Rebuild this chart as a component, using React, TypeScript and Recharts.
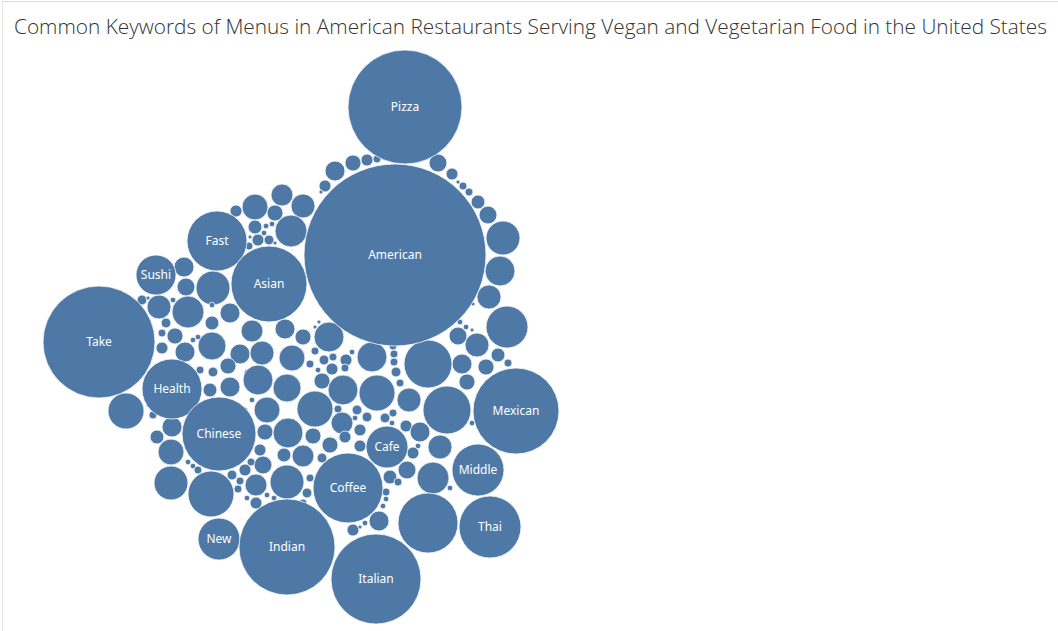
import { ScatterChart, Scatter, XAxis, YAxis, ZAxis, LabelList } from 'recharts';

// Keywords that carry a label in the packed bubble view
const labeledNames = [
  'Pizza', 'American', 'Take', 'Fast', 'Sushi', 'Asian', 'Health', 'Chinese',
  'Mexican', 'Cafe', 'Middle', 'Coffee', 'Thai', 'New', 'Indian', 'Italian',
];
const labeledCounts = [812, 2070, 784, 225, 100, 361, 225, 342, 462, 110, 169, 306, 240, 110, 576, 506];
// pack layout position of each bubble (layout units)
const labeledPackX = [405, 395, 99, 217, 156, 269, 172, 219, 516, 387, 478, 348, 490, 219, 287, 376];
const labeledPackY = [107, 255, 342, 241, 275, 284, 389, 434, 411, 447, 470, 488, 527, 539, 547, 579];

// Remaining (unlabeled) keywords: counts and pack layout positions
const otherCounts = [
  // top right, around Pizza
  20, 9, 1, 4, 4, 12, 20, 72, 56, 36, 110, 1, 2, 2, 1, 20, 36, 12, 4, 16, 25, 16, 2,
  // top left, around American
  25, 16, 9, 4, 9, 1, 36, 64, 30, 16, 42, 9, 12, 9, 6, 2, 2, 2, 1, 4, 1,
  // left side
  25, 20, 72, 36, 64, 6, 2, 1, 6, 4, 16, 9, 25, 2, 2, 81, 4, 1, 12, 25, 42, 72, 2, 2, 4, 132,
  // middle left
  2, 25, 12, 30, 25, 16, 49, 25, 36, 42, 16, 6, 4, 4, 56, 25, 12, 49, 42, 2, 2,
  // center
  56, 1, 1, 4, 4, 6, 4, 9, 2, 2, 9, 4, 16, 56, 4, 4, 4, 6, 4, 56, 81, 36, 81, 6, 4, 2, 6,
  30, 6, 4, 2, 9, 9, 16, 16, 9, 9, 30, 6, 4, 6, 4, 144, 144,
  // lower left center
  16, 9, 56, 12, 20, 4, 9, 6, 4, 4, 30, 2, 9, 72, 2, 2,
  // lower right
  25, 2, 36, 9, 20, 64, 2, 225, 12, 4, 4, 2, 2, 25, 2, 9, 1,
];
const otherPackX = [
  438, 452, 458, 463, 469, 478, 488, 503, 500, 489, 507, 473, 460, 466, 472, 458, 477, 498, 508, 486, 462, 467, 472,
  335, 353, 367, 377, 325, 321, 303, 291, 282, 275, 255, 236, 255, 258, 269, 266, 272, 264, 250, 249, 275,
  184, 186, 213, 159, 188, 142, 173, 148, 166, 162, 175, 162, 185, 193, 198, 126, 153, 148, 157, 172, 171, 171, 188, 193, 198, 211,
  212, 230, 212, 252, 285, 303, 212, 240, 262, 292, 228, 213, 200, 248, 258, 230, 210, 287, 267, 252, 245,
  329, 315, 319, 315, 310, 324, 333, 346, 352, 318, 332, 345, 322, 372, 393, 394, 394, 396, 400, 343, 377, 409, 315, 357, 338, 355, 367,
  342, 385, 393, 392, 406, 360, 313, 330, 345, 360, 303, 322, 310, 307, 303, 428, 447,
  265, 260, 288, 284, 263, 251, 245, 232, 240, 238, 256, 247, 256, 287, 267, 274,
  420, 418, 440, 413, 407, 433, 450, 428, 390, 398, 386, 386, 383, 379, 365, 353, 360,
];
const otherPackY = [
  163, 174, 182, 186, 192, 202, 215, 238, 271, 297, 327, 304, 322, 327, 330, 336, 345, 355, 363, 367, 364, 382, 423,
  171, 163, 160, 159, 186, 192, 206, 231, 195, 213, 207, 211, 227, 240, 240, 226, 224, 233, 237, 246, 243,
  267, 287, 288, 307, 312, 300, 300, 298, 323, 333, 336, 348, 352, 340, 337, 411, 415, 405, 437, 427, 452, 483, 462, 466, 470, 494,
  305, 313, 323, 331, 329, 337, 346, 354, 353, 358, 366, 372, 370, 373, 380, 387, 390, 388, 410, 400, 410,
  337, 327, 322, 351, 364, 360, 357, 360, 352, 370, 369, 368, 381, 357, 346, 354, 362, 372, 383, 390, 393, 400, 409, 410, 409, 418, 417,
  423, 418, 413, 423, 426, 430, 436, 445, 437, 446, 456, 458, 478, 493, 503, 364, 410,
  432, 450, 433, 455, 465, 462, 470, 475, 481, 489, 485, 498, 503, 482, 495, 498,
  432, 446, 447, 453, 470, 478, 488, 523, 477, 482, 492, 499, 506, 521, 523, 530, 527,
];

const MAX_COUNT = 2070;
const BUBBLE = '#4e79a7';

const bubbles = [
  ...otherCounts.map((c, i) => ({ name: '', count: c, x: otherPackX[i], y: otherPackY[i] })),
  ...labeledNames.map((n, i) => ({ name: n, count: labeledCounts[i], x: labeledPackX[i], y: labeledPackY[i] })),
];

export default function App() {
  return (
    <div style={{ position: 'absolute', left: 0, top: 0, width: 1058, height: 631, background: '#fff', overflow: 'hidden' }}>
      <div style={{ position: 'absolute', left: 2, top: 1, right: 0, bottom: 0, borderTop: '1px solid #dcdcdc', borderLeft: '1px solid #e6e6e6' }} />
      <div
        style={{
          position: 'absolute', left: 14, top: 12, whiteSpace: 'nowrap',
          fontFamily: '"Open Sans", sans-serif', fontWeight: 300, fontSize: 20.8, color: '#333',
        }}
      >
        Common Keywords of Menus in American Restaurants Serving Vegan and Vegetarian Food in the United States
      </div>
      <ScatterChart width={1058} height={631} margin={{ top: 0, right: 0, bottom: 0, left: 0 }}>
        <XAxis type="number" dataKey="x" domain={[0, 1058]} hide />
        <YAxis type="number" dataKey="y" domain={[0, 631]} reversed hide />
        <ZAxis type="number" dataKey="count" domain={[0, MAX_COUNT]} range={[0, 4 * Math.PI * MAX_COUNT]} />
        <Scatter
          data={bubbles}
          fill={BUBBLE}
          stroke="#ffffff"
          strokeOpacity={0.75}
          strokeWidth={1}
          isAnimationActive={false}
        >
          <LabelList dataKey="name" position="center" fill="#ffffff" fontSize={12} fontFamily='"Noto Sans", sans-serif' />
        </Scatter>
      </ScatterChart>
    </div>
  );
}
